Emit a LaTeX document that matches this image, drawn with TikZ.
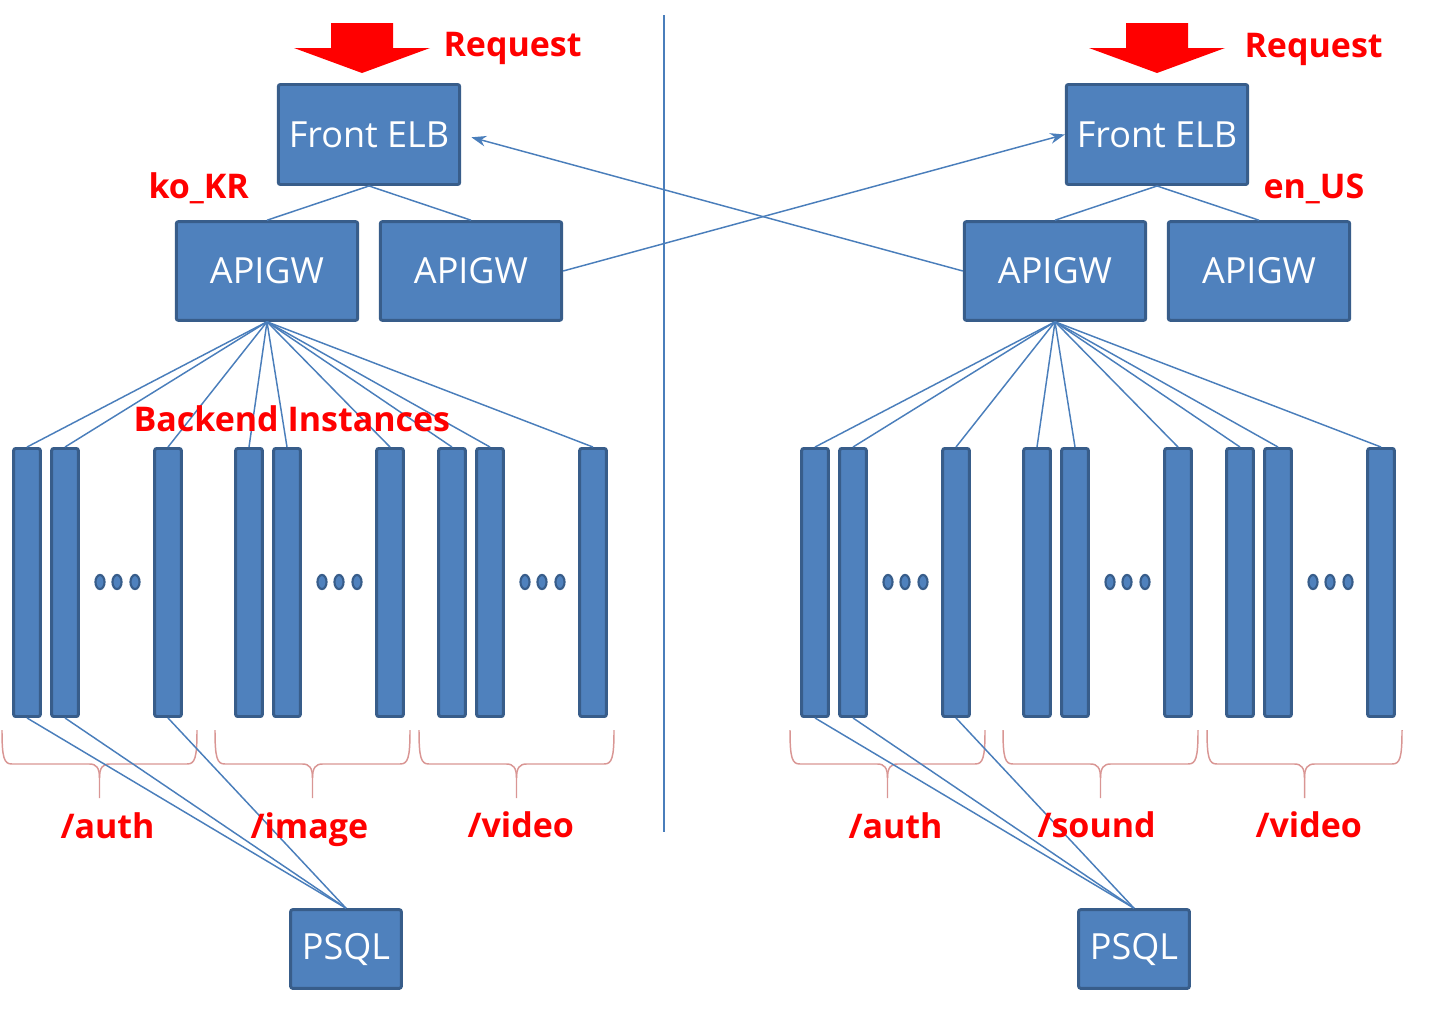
\documentclass[tikz,border=0pt]{standalone}
\usepackage{fontspec}
\setmainfont{Open Sans}
\usetikzlibrary{arrows.meta}

\definecolor{boxfill}{RGB}{79,129,189}
\definecolor{boxline}{RGB}{56,93,138}
\definecolor{linkcol}{RGB}{74,126,187}
\definecolor{bracecol}{RGB}{217,150,148}

\tikzset{every picture/.style={line width=0.75pt}}
\tikzset{
  box/.style={draw=boxline, fill=boxfill, line width=2.2pt, rounded corners=1.5pt, text=white, font=\fontsize{27}{31}\selectfont, inner sep=0pt},
  elb/.style={box, minimum width=136pt, minimum height=75pt},
  gw/.style={box, minimum width=136pt, minimum height=74pt},
  db/.style={box, minimum width=83pt, minimum height=59pt},
  inst/.style={draw=boxline, fill=boxfill, line width=2.2pt, rounded corners=1.5pt, minimum width=20pt, minimum height=201pt, inner sep=0pt},
  link/.style={draw=linkcol, line width=1.1pt},
  tag/.style={text=red, font=\bfseries\fontsize{25.5}{30}\selectfont, inner sep=0pt, anchor=base west},
  dots/.style={draw=boxline, fill=boxfill, line width=1.6pt},
  grp/.style={draw=bracecol, line width=1.1pt},
}

\begin{document}
\begin{tikzpicture}[x=0.75pt,y=0.75pt,yscale=-1,xscale=1]
\useasboundingbox (0,0) rectangle (1434,1014);

%Shape: Request arrows
\foreach \s in {0,795}
  \fill[red] (331+\s,23) -- (393+\s,23) -- (393+\s,48) -- (430+\s,48) -- (362+\s,73) -- (294+\s,48) -- (331+\s,48) -- cycle ;

%Straight Lines: divider
\draw[link, line width=1pt] (664,15) -- (664,832) ;

% Front ELB / APIGW / PSQL
\node[elb] (lelb) at (369,134.5) {Front ELB};
\node[gw] (lgw1) at (267,271) {APIGW};
\node[gw] (lgw2) at (471,271) {APIGW};
\node[db] (lpsql) at (346,949) {PSQL};

\node[elb] (relb) at (1157,134.5) {Front ELB};
\node[gw] (rgw1) at (1055,271) {APIGW};
\node[gw] (rgw2) at (1259,271) {APIGW};
\node[db] (rpsql) at (1134,949) {PSQL};

% Backend instances
\foreach \x [count=\i] in {27,65,168,249,287,390,452,490,593} {
  \node[inst] (lb\i) at (\x,582.5) {};
  \node[inst] (rb\i) at (\x+788,582.5) {};
}

%Shape: dots
\foreach \x in {168,390,593,956,1178,1381}
  \foreach \d in {68,51,33}
    \draw[dots] (\x-\d,582) ellipse (3.4pt and 5.3pt) ;

%Shape: braces
\foreach \a in {2,215,419,790,1003,1207} {
  \draw[grp] (\a,730) .. controls (\a,758) and (\a+2,764) .. (\a+10,764) -- (\a+87.5,764) .. controls (\a+94.5,764) and (\a+97.5,768) .. (\a+97.5,778) -- (\a+97.5,798) ;
  \draw[grp] (\a+195,730) .. controls (\a+195,758) and (\a+193,764) .. (\a+185,764) -- (\a+107.5,764) .. controls (\a+100.5,764) and (\a+97.5,768) .. (\a+97.5,778) ;
}

%Straight Lines
\draw[link] (lelb.south) -- (lgw1.north) ;
\draw[link] (lelb.south) -- (lgw2.north) ;
\draw[link] (relb.south) -- (rgw1.north) ;
\draw[link] (relb.south) -- (rgw2.north) ;
\foreach \i in {1,...,9} {
  \draw[link] (lgw1.south) -- (lb\i.north) ;
  \draw[link] (rgw1.south) -- (rb\i.north) ;
}
\foreach \i in {1,2,3} {
  \draw[link] (lpsql.north) -- (lb\i.south) ;
  \draw[link] (rpsql.north) -- (rb\i.south) ;
}
\draw[link, -{Stealth[length=11pt,width=8pt]}] (lgw2.east) -- (relb.west) ;
\draw[link, -{Stealth[length=11pt,width=8pt]}, shorten >=8pt] (rgw1.west) -- (lelb.east) ;

% Text Node
\node[tag] (lreq) at (443,56) {Request};
\node[tag] (rreq) at (1244,57) {Request};
\node[tag] (lloc) at (148,198) {ko\_KR};
\node[tag] (rloc) at (1263,198) {en\_US};
\node[tag] (binst) at (133,431) {Backend Instances};
\node[tag] (lauth) at (60,838) {/auth};
\node[tag] (limg) at (250,838) {/image};
\node[tag] (lvid) at (467,837) {/video};
\node[tag] (rauth) at (848,838) {/auth};
\node[tag] (rsnd) at (1037,837) {/sound};
\node[tag] (rvid) at (1255,837) {/video};
\end{tikzpicture}
\end{document}
